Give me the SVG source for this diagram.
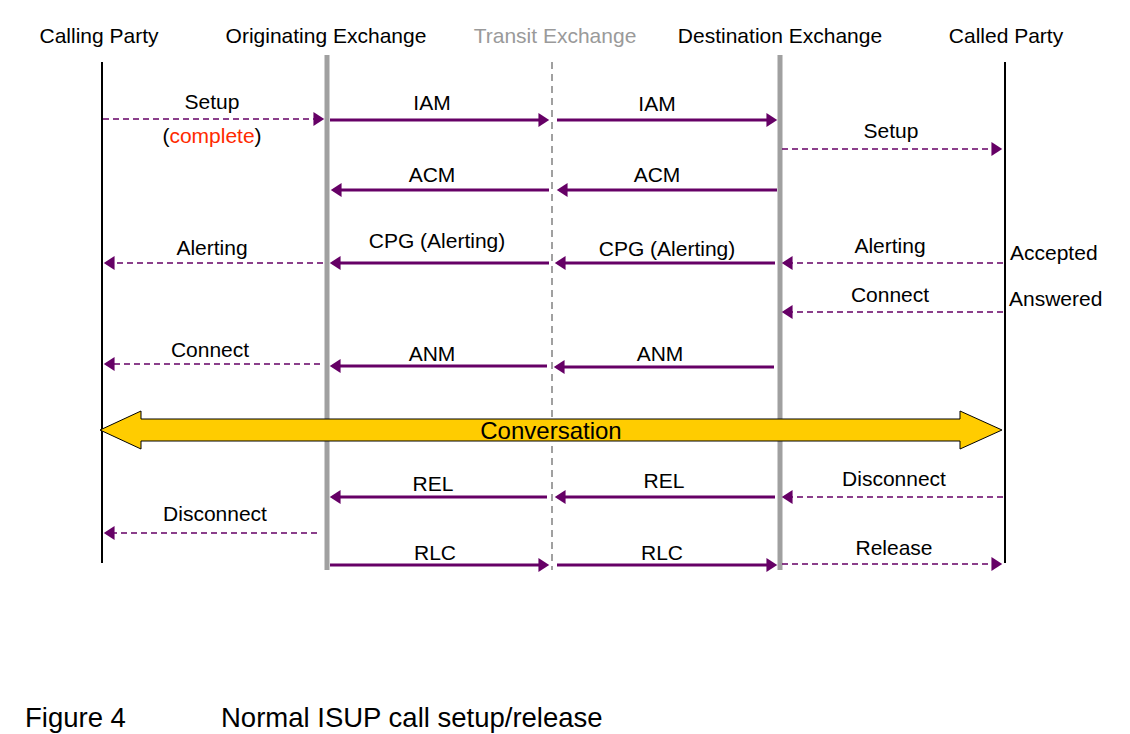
<svg xmlns="http://www.w3.org/2000/svg" width="1130" height="734" viewBox="0 0 1130 734">
<style>
text{font-family:"Liberation Sans",Arial,sans-serif;font-size:21px;fill:#000}
.hdr{text-anchor:middle}
.lbl{text-anchor:middle}
.gray{fill:#9a9a9a}
.red{fill:#ff2a00}
.solid{stroke:#660066;stroke-width:3;fill:none;marker-end:url(#ah)}
.dash{stroke:#660066;stroke-width:1.6;stroke-dasharray:6 4;fill:none;marker-end:url(#ah)}
.life{stroke:#000;stroke-width:2}
.exch{stroke:#a0a0a0;stroke-width:5}
.trans{stroke:#a0a0a0;stroke-width:2;stroke-dasharray:7 5}
</style>
<defs>
<marker id="ah" markerUnits="userSpaceOnUse" markerWidth="12" markerHeight="14" refX="7" refY="6.5" orient="auto" viewBox="0 0 10 13">
<path d="M0,0 L10,6.5 L0,13 z" fill="#660066"/>
</marker>
</defs>
<rect width="1130" height="734" fill="#fff"/>
<g id="lifelines">
<g id="calling-party"><text class="hdr" x="99" y="43">Calling Party</text><line class="life" x1="102" y1="62" x2="102" y2="563"/></g>
<g id="originating-exchange"><text class="hdr" x="326" y="43">Originating Exchange</text><line class="exch" x1="327" y1="55" x2="327" y2="570"/></g>
<g id="transit-exchange"><text class="hdr gray" x="555" y="43">Transit Exchange</text><line class="trans" x1="552" y1="62" x2="552" y2="570"/></g>
<g id="destination-exchange"><text class="hdr" x="780" y="43">Destination Exchange</text><line class="exch" x1="780" y1="55" x2="780" y2="570"/></g>
<g id="called-party"><text class="hdr" x="1006" y="43">Called Party</text><line class="life" x1="1005" y1="62" x2="1005" y2="563"/></g>
</g>
<g id="connectors">
<path class="dash" d="M103,119 H321"/>
<path class="solid" d="M330,120 H546"/>
<path class="solid" d="M557,120 H774"/>
<path class="dash" d="M782,149 H999"/>
<path class="solid" d="M549,190 H334"/>
<path class="solid" d="M777,190 H560"/>
<path class="dash" d="M323,263 H107"/>
<path class="solid" d="M549,263 H333"/>
<path class="solid" d="M775,263 H558"/>
<path class="dash" d="M1003,263 H785"/>
<path class="dash" d="M1003,312 H785"/>
<path class="dash" d="M320,364 H107"/>
<path class="solid" d="M547,366 H333"/>
<path class="solid" d="M774,367 H557"/>
<path class="solid" d="M547,497 H333"/>
<path class="solid" d="M775,497 H558"/>
<path class="dash" d="M1003,497 H785"/>
<path class="dash" d="M317,533 H107"/>
<path class="solid" d="M330,565 H546"/>
<path class="solid" d="M557,565 H774"/>
<path class="dash" d="M782,564 H999"/>
</g>
<g id="labels">
<text class="lbl" x="212" y="109">Setup</text>
<text class="lbl" x="212" y="143">(<tspan class="red">complete</tspan>)</text>
<text class="lbl" x="432" y="110">IAM</text>
<text class="lbl" x="657" y="111">IAM</text>
<text class="lbl" x="891" y="138">Setup</text>
<text class="lbl" x="432" y="182">ACM</text>
<text class="lbl" x="657" y="182">ACM</text>
<text class="lbl" x="212" y="255">Alerting</text>
<text class="lbl" x="437" y="248">CPG (Alerting)</text>
<text class="lbl" x="667" y="256">CPG (Alerting)</text>
<text class="lbl" x="890" y="253">Alerting</text>
<text x="1010" y="260">Accepted</text>
<text class="lbl" x="890" y="302">Connect</text>
<text x="1009" y="306">Answered</text>
<text class="lbl" x="210" y="357">Connect</text>
<text class="lbl" x="432" y="361">ANM</text>
<text class="lbl" x="660" y="361">ANM</text>
<text class="lbl" x="433" y="491">REL</text>
<text class="lbl" x="664" y="488">REL</text>
<text class="lbl" x="894" y="486">Disconnect</text>
<text class="lbl" x="215" y="521">Disconnect</text>
<text class="lbl" x="435" y="560">RLC</text>
<text class="lbl" x="662" y="560">RLC</text>
<text class="lbl" x="894" y="555">Release</text>
</g>
<g id="conversation">
<polygon points="100,430 141,411 141,419 960,419 960,411 1002,430 960,449 960,441 141,441 141,449" fill="#ffcc00" stroke="#000" stroke-width="1"/>
<text x="551" y="439" text-anchor="middle" style="font-size:24px">Conversation</text>
</g>
<g id="caption">
<text x="25" y="727" style="font-size:27.5px">Figure 4</text>
<text x="221" y="727" style="font-size:27.5px">Normal ISUP call setup/release</text>
</g>
</svg>
